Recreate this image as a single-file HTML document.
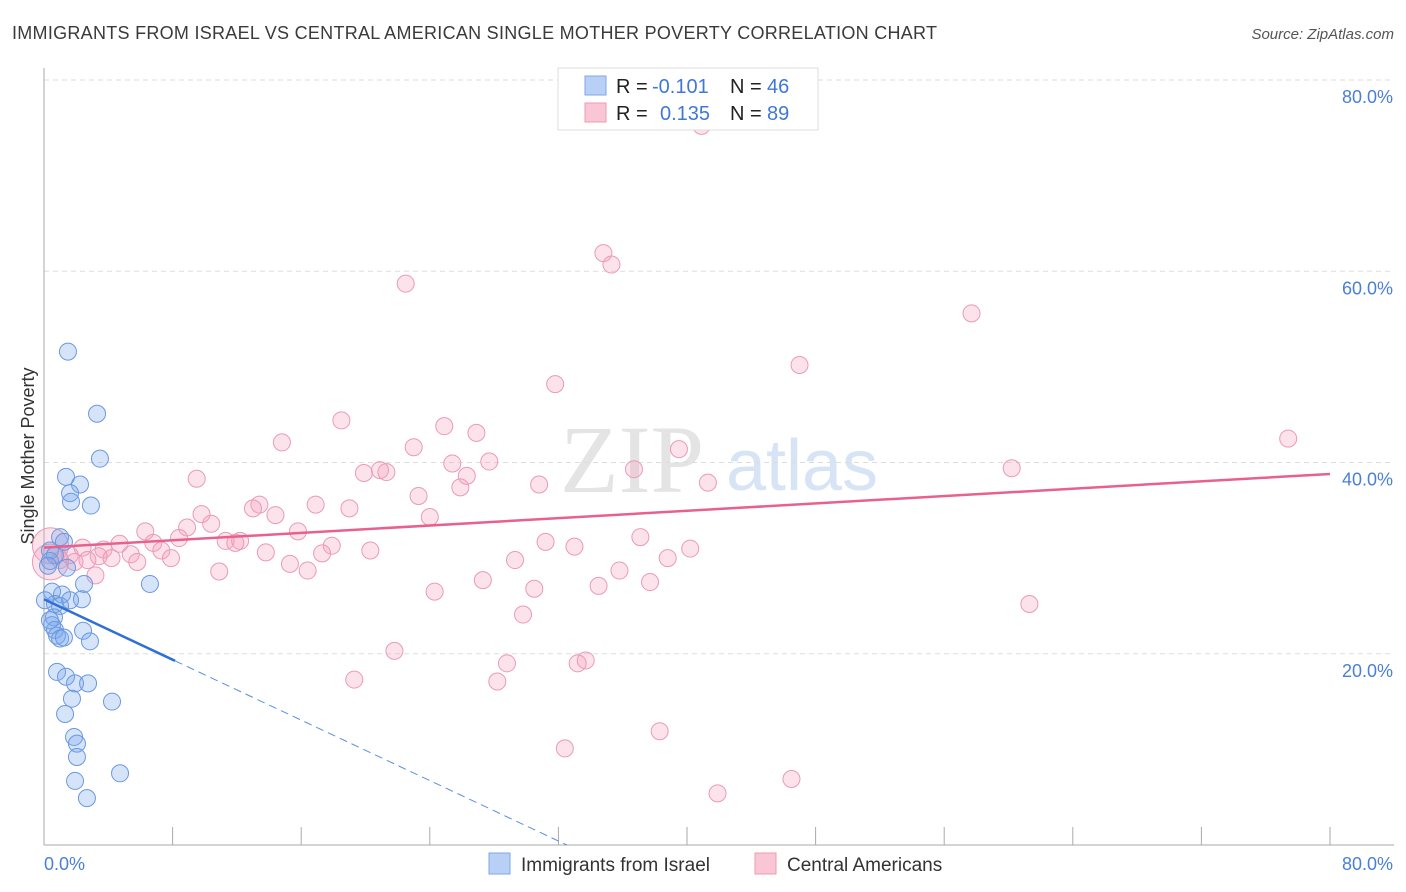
<!DOCTYPE html>
<html><head><meta charset="utf-8"><style>
body{margin:0;background:#fff;font-family:"Liberation Sans",sans-serif}
svg{display:block}
</style></head><body>
<svg id="c" width="1406" height="892">
<text x="12" y="39" font-size="18" fill="#3a3a3a" textLength="925">IMMIGRANTS FROM ISRAEL VS CENTRAL AMERICAN SINGLE MOTHER POVERTY CORRELATION CHART</text>
<text x="1394" y="39" font-size="15" fill="#555" text-anchor="end" font-style="italic">Source: ZipAtlas.com</text>
<text x="632" y="492" font-size="96" fill="#e4e4e4" font-family="Liberation Serif,serif" text-anchor="middle">ZIP</text>
<text x="802" y="490" font-size="72" fill="#d6e4f5" text-anchor="middle">atlas</text>
<text transform="translate(34,456) rotate(-90)" font-size="18" fill="#333" text-anchor="middle">Single Mother Poverty</text>
<g id="grid"></g><g id="marks"></g><g id="lines"></g>
<g>
<rect x="558" y="68" width="260" height="62" fill="#fff" stroke="#ddd"/>
<rect x="585" y="76" width="21" height="19" fill="#b8d0f5" stroke="#7fa6e6"/>
<rect x="585" y="103" width="21" height="19" fill="#f9c6d6" stroke="#ee99b4"/>
<text x="616" y="93" font-size="20" fill="#222">R =</text>
<text x="652" y="93" font-size="20" fill="#3f78d8">-0.101</text>
<text x="730" y="93" font-size="20" fill="#222">N =</text>
<text x="767" y="93" font-size="20" fill="#3f78d8">46</text>
<text x="616" y="120" font-size="20" fill="#222">R =</text>
<text x="660" y="120" font-size="20" fill="#3f78d8">0.135</text>
<text x="730" y="120" font-size="20" fill="#222">N =</text>
<text x="767" y="120" font-size="20" fill="#3f78d8">89</text>
</g>
<text x="44" y="870" font-size="18" fill="#4a7fd6">0.0%</text>
<text x="1393" y="870" font-size="18" fill="#4a7fd6" text-anchor="end">80.0%</text>
<g>
<rect x="489" y="853" width="21" height="21" fill="#b8d0f5" stroke="#7fa6e6"/>
<text x="521" y="871" font-size="19" fill="#333">Immigrants from Israel</text>
<rect x="755" y="853" width="21" height="21" fill="#f9c6d6" stroke="#ee99b4"/>
<text x="787" y="871" font-size="19" fill="#333">Central Americans</text>
</g>
</svg>
<script>
const yTicks=[20,40,60,80];
const xTicks=[0,8,16,24,32,40,48,56,64,72,80];
const blueX=[1.49,3.30,3.48,1.37,2.24,1.62,1.68,2.92,1.0,1.24,0.37,0.68,0.37,1.43,2.49,6.59,0.5,1.12,2.36,1.62,0.68,1.0,0.62,0.5,0.68,2.43,0.81,1.0,1.24,2.86,0.81,1.37,1.93,2.74,1.74,4.23,1.31,1.87,2.05,2.05,4.73,1.93,2.67,0.25,0.06,0.37];
const blueY=[51.6,45.1,40.4,38.5,37.7,36.8,35.9,35.5,32.2,31.7,30.8,30.3,29.7,29.0,27.3,27.3,26.5,26.2,25.7,25.6,25.2,25.0,23.8,23.0,22.5,22.4,21.9,21.6,21.7,21.3,18.1,17.6,16.9,16.9,15.3,15.0,13.7,11.3,10.6,9.2,7.5,6.7,4.9,29.2,25.6,23.5];
const pinkX=[40.9,34.8,35.3,22.5,57.7,47.0,31.8,18.5,24.9,14.8,26.9,23.0,77.4,39.5,25.4,27.7,19.9,20.9,21.3,36.7,60.2,9.5,26.3,25.9,30.8,41.3,23.3,16.9,13.4,13.0,19.0,9.8,14.4,10.4,24.0,8.9,15.8,6.3,8.4,11.3,12.2,6.8,11.9,4.7,37.1,31.2,17.9,33.0,40.2,7.3,3.7,13.8,20.3,17.3,5.4,2.4,3.4,1.6,4.2,2.7,1.9,1.0,7.9,5.8,29.3,38.8,15.3,16.4,35.8,10.9,27.3,37.7,30.5,34.5,24.3,61.3,29.8,21.8,28.8,33.7,33.2,19.3,28.2,38.3,32.4,46.5,41.9,0.4,0.4,3.2];
const pinkY=[75.2,61.9,60.7,58.7,55.6,50.2,48.2,44.4,43.8,42.1,43.1,41.6,42.5,41.4,39.9,40.1,38.9,39.2,39.0,39.3,39.4,38.3,38.6,37.4,37.7,37.9,36.5,35.6,35.6,35.2,35.2,34.6,34.5,33.6,34.3,33.2,32.8,32.8,32.1,31.8,31.8,31.6,31.6,31.5,32.2,31.7,31.3,31.2,31.0,30.8,30.9,30.6,30.8,30.5,30.4,31.1,30.2,30.3,30.0,29.8,29.6,29.8,30.0,29.6,29.8,30.0,29.4,28.7,28.7,28.6,27.7,27.5,26.8,27.1,26.5,25.2,24.1,20.3,19.0,19.3,19.0,17.3,17.1,11.9,10.1,6.9,5.4,31.3,29.6,28.2];
const pinkLine=[31.1,38.8];
const blueLine=[25.7,-0.79,8.15];
const X0=44,X1=1330,Y0=845,Y1=80;
const sx=v=>X0+(X1-X0)*v/80, sy=v=>Y0-(Y0-Y1)*v/80;
const NS="http://www.w3.org/2000/svg";
function mk(t,a,p){const e=document.createElementNS(NS,t);for(const k in a)e.setAttribute(k,a[k]);p.appendChild(e);return e;}
const grid=document.getElementById('grid'),marks=document.getElementById('marks'),lines=document.getElementById('lines');
yTicks.forEach(t=>{
 const l=mk('line',{x1:X0,x2:1394,y1:sy(t),y2:sy(t),stroke:'#ddd','stroke-dasharray':'5,4'},grid);
 
 
 const tx=mk('text',{x:1393,y:sy(t)+23,'font-size':18,fill:'#4a7fd6','text-anchor':'end'},grid);
 tx.textContent=t.toFixed(1)+'%';
 
 
});
const ax=mk('line',{x1:X0,x2:X0,y1:68,y2:Y0,stroke:'#aaa'},grid);


const bx=mk('line',{x1:X0,x2:1394,y1:Y0,y2:Y0,stroke:'#aaa'},grid);


xTicks.forEach(t=>{
 const l=mk('line',{x1:sx(t),x2:sx(t),y1:Y0,y2:Y0-18,stroke:'#aaa'},grid);
 
 
});
function pts(xs,ys,fill,stroke,name){
 xs.forEach((x,i)=>{
  const big=(name==='pink-point'&&x<0.5);
  const c=mk('circle',{cx:sx(x),cy:sy(ys[i]),r:big?18:8.5,fill:fill,stroke:stroke,'stroke-width':1},marks);
  
  
 });
}
pts(pinkX,pinkY,'rgba(244,160,190,0.3)','#eb9ab6','pink-point');
pts(blueX,blueY,'rgba(120,165,235,0.3)','#6a98e0','blue-point');
const pl=mk('line',{x1:sx(0),y1:sy(pinkLine[0]),x2:sx(80),y2:sy(pinkLine[1]),stroke:'#e8608e','stroke-width':2.5},lines);


const bEnd=blueLine[0]+blueLine[1]*blueLine[2];
const bl=mk('line',{x1:sx(0),y1:sy(blueLine[0]),x2:sx(blueLine[2]),y2:sy(bEnd),stroke:'#2f6fd8','stroke-width':2.5},lines);


const zx=-blueLine[0]/blueLine[1];
const bd=mk('line',{x1:sx(blueLine[2]),y1:sy(bEnd),x2:sx(zx),y2:sy(0),stroke:'#5a8ee0','stroke-width':1,'stroke-dasharray':'8,5'},lines);


</script>
</body></html>
